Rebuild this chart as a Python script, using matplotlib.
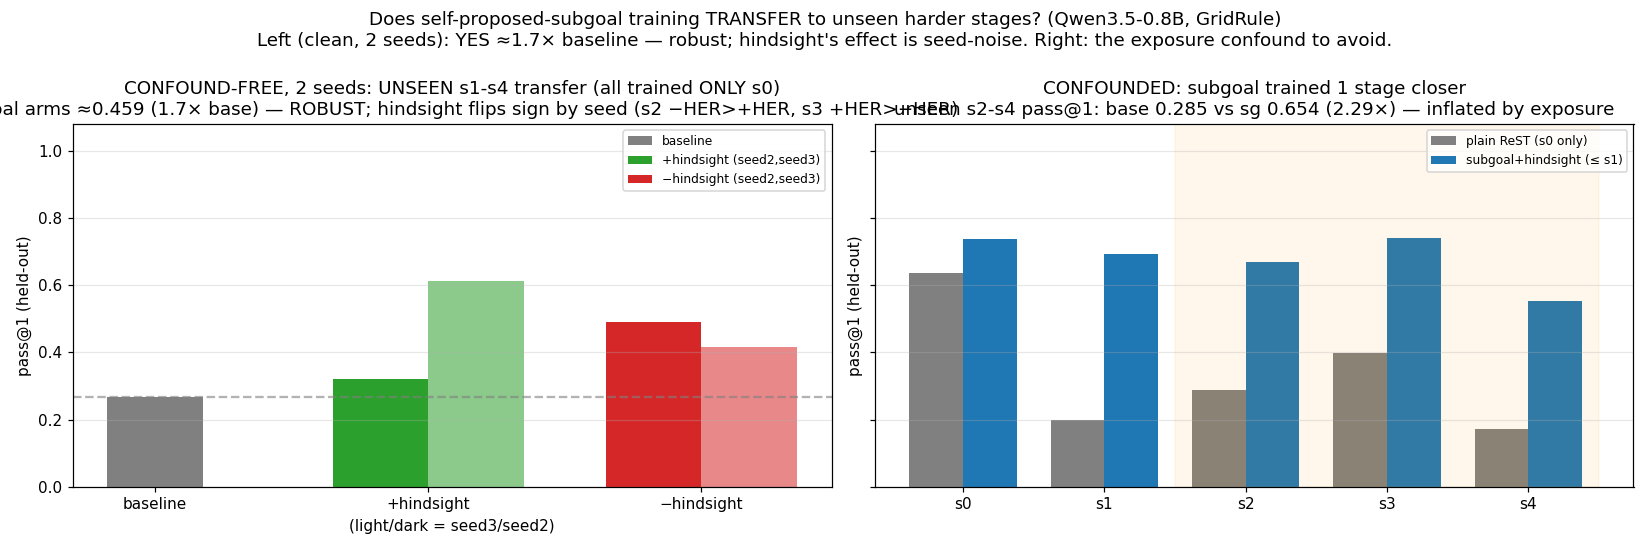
import matplotlib
matplotlib.use('Agg')
import matplotlib.pyplot as plt
import numpy as np

# left panel: confound-free, 2 seeds
arms = ['baseline', '+hindsight', '\u2212hindsight']
baseline = 0.268
her_seed2, her_seed3 = 0.320, 0.612
noher_seed2, noher_seed3 = 0.490, 0.416

# right panel: confounded, per stage
stages = ['s0', 's1', 's2', 's3', 's4']
plain_rest = [0.636, 0.200, 0.287, 0.397, 0.171]
subgoal_her = [0.737, 0.692, 0.668, 0.742, 0.552]

fig, (ax1, ax2) = plt.subplots(1, 2, figsize=(15, 5), dpi=110, sharey=True)

w = 0.35
x = np.arange(len(arms))
ax1.bar(x[0], baseline, w, color='gray', label='baseline')
ax1.bar(x[1] - w/2, her_seed2, w, color='tab:green', label='+hindsight (seed2,seed3)')
ax1.bar(x[1] + w/2, her_seed3, w, color='tab:green', alpha=0.55)
ax1.bar(x[2] - w/2, noher_seed2, w, color='tab:red', label='\u2212hindsight (seed2,seed3)')
ax1.bar(x[2] + w/2, noher_seed3, w, color='tab:red', alpha=0.55)
ax1.axhline(baseline, color='gray', ls='--', alpha=0.6)
ax1.set_xticks(x)
ax1.set_xticklabels(arms)
ax1.set_xlabel('(light/dark = seed3/seed2)')
ax1.set_ylabel('pass@1 (held-out)')
ax1.set_ylim(0, 1.08)
ax1.grid(axis='y', alpha=0.3)
ax1.legend(fontsize=8, loc='upper right')
sg_mean = np.mean([her_seed2, her_seed3, noher_seed2, noher_seed3])
ax1.set_title('CONFOUND-FREE, 2 seeds: UNSEEN s1-s4 transfer (all trained ONLY s0)\n'
              'subgoal arms \u2248%.3f (%.1f\u00d7 base) \u2014 ROBUST; hindsight flips sign by seed '
              '(s2 \u2212HER>+HER, s3 +HER>\u2212HER)' % (sg_mean, sg_mean / baseline))

xs = np.arange(len(stages))
w2 = 0.38
ax2.bar(xs - w2/2, plain_rest, w2, color='gray', label='plain ReST (s0 only)')
ax2.bar(xs + w2/2, subgoal_her, w2, color='tab:blue', label='subgoal+hindsight (\u2264 s1)')
ax2.axvspan(1.5, 4.5, color='orange', alpha=0.08)
ax2.set_xticks(xs)
ax2.set_xticklabels(stages)
ax2.set_ylabel('pass@1 (held-out)')
ax2.grid(axis='y', alpha=0.3)
ax2.legend(fontsize=8, loc='upper right')
b = np.mean(plain_rest[2:])
s = np.mean(subgoal_her[2:])
ax2.set_title('CONFOUNDED: subgoal trained 1 stage closer\n'
              'unseen s2-s4 pass@1: base %.3f vs sg %.3f (%.2f\u00d7) \u2014 inflated by exposure' % (b, s, s / b))

fig.suptitle('Does self-proposed-subgoal training TRANSFER to unseen harder stages? (Qwen3.5-0.8B, GridRule)\n'
             'Left (clean, 2 seeds): YES \u22481.7\u00d7 baseline \u2014 robust; hindsight\'s effect is seed-noise. '
             'Right: the exposure confound to avoid.')
plt.tight_layout(rect=(0, 0, 1, 0.985))
plt.savefig('out.png')
